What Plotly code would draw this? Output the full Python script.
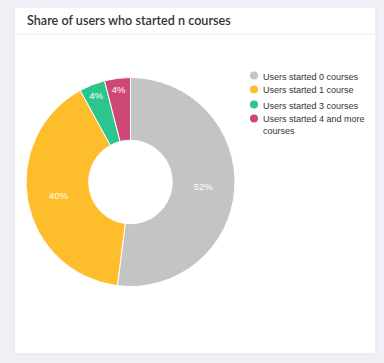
import plotly.graph_objects as go

categories = ["Users started 0 courses", "Users started 1 course",
              "Users started 3 courses", "Users started 4 and more courses"]
legend_labels = ["Users started 0 courses", "Users started 1 course",
                 "Users started 3 courses", "Users started 4 and more<br>courses"]
values = [52, 40, 4, 4]
colors = ["#c4c4c4", "#febd2a", "#2cc68c", "#cd4877"]
title_text = "Share of users who started n courses"

W, H = 384, 363

def px(x):
    return x / W

def py(y):
    return 1 - y / H

fig = go.Figure()
fig.add_trace(go.Pie(
    labels=categories, values=values, hole=0.4, sort=False,
    direction="clockwise", rotation=0,
    marker=dict(colors=colors, line=dict(color="white", width=1)),
    textinfo="percent", textposition="inside",
    insidetextorientation="horizontal",
    textfont=dict(family="Liberation Sans, Arial", size=9.5, color="white"),
    domain=dict(x=[px(26), px(235)], y=[py(286.5), py(77.5)]),
    showlegend=False, hoverinfo="label+percent",
))

shapes = [
    dict(type="rect", xref="paper", yref="paper", x0=px(14), x1=px(376),
         y0=py(354), y1=py(7), fillcolor="white",
         line=dict(color="#e2e3e8", width=1), layer="below"),
    dict(type="line", xref="paper", yref="paper", x0=px(14), x1=px(376),
         y0=py(34), y1=py(34), line=dict(color="#ebebef", width=1)),
]
annotations = [
    dict(text=title_text, xref="paper", yref="paper", x=px(25), y=py(20),
         xanchor="left", yanchor="middle", showarrow=False,
         font=dict(family="Lato", size=12.6, color="#333333", weight=600)),
]
leg_y = [75.5, 89.5, 104.5, 118.5]
for lab, c, yy in zip(legend_labels, colors, leg_y):
    shapes.append(dict(type="circle", xref="paper", yref="paper",
                       x0=px(250), x1=px(258), y0=py(yy + 4), y1=py(yy - 4),
                       fillcolor=c, line=dict(width=0)))
    annotations.append(dict(text=lab, xref="paper", yref="paper",
                            x=px(261), y=py(yy - 6), xanchor="left", yanchor="top",
                            align="left", showarrow=False,
                            font=dict(family="Liberation Sans, Arial", size=9, color="#333333")))

fig.update_layout(
    width=W, height=H, autosize=False,
    margin=dict(l=0, r=0, t=0, b=0),
    paper_bgcolor="#eff0f5", plot_bgcolor="#eff0f5",
    shapes=shapes, annotations=annotations,
)

fig.write_html("out.html", config={"displayModeBar": False},
               post_script="document.body.style.margin='0';document.body.style.padding='0';")
